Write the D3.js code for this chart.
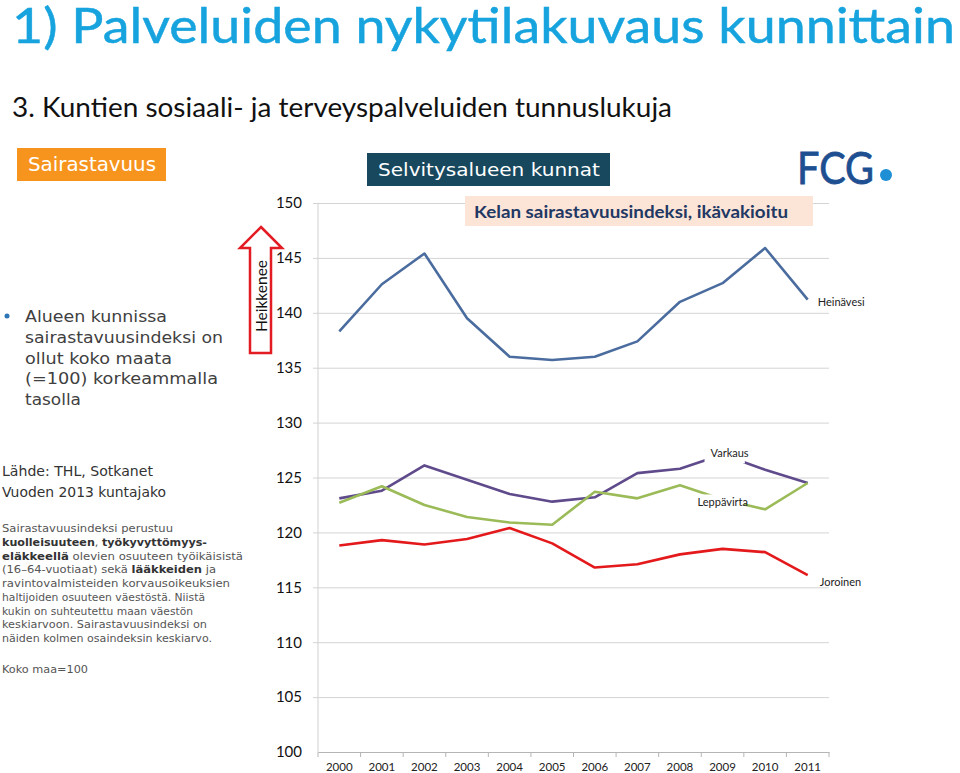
<!DOCTYPE html>
<html>
<head>
<meta charset="utf-8">
<script src="https://cdn.jsdelivr.net/npm/d3@7"></script>
<style>
  body { margin: 0; background: #fff; }
  svg { display: block; }
</style>
</head>
<body>
<div id="chart"></div>
<script>
// values
var years = ["2000", "2001", "2002", "2003", "2004", "2005", "2006", "2007", "2008", "2009", "2010", "2011"];
var heinavesi = [138.3, 142.6, 145.4, 139.5, 136.0, 135.7, 136.0, 137.4, 141.0, 142.7, 145.9, 141.2];
var varkaus = [123.1, 123.8, 126.1, 124.8, 123.5, 122.8, 123.2, 125.4, 125.8, 127.1, 125.7, 124.5];
var leppavirta = [122.7, 124.2, 122.5, 121.4, 120.9, 120.7, 123.7, 123.1, 124.3, 123.0, 122.1, 124.5];
var joroinen = [118.8, 119.3, 118.9, 119.4, 120.4, 119.0, 116.8, 117.1, 118.0, 118.5, 118.2, 116.1];
var yTicks = [100, 105, 110, 115, 120, 125, 130, 135, 140, 145, 150];

var width = 960, height = 773;

var svg = d3.select("#chart").append("svg")
    .attr("width", width).attr("height", height);

// headings
svg.append("text").attr("x", 12).attr("y", 43)
    .attr("textLength", 943).attr("lengthAdjust", "spacingAndGlyphs")
    .style("font-family", "Lato").style("font-size", "49px").style("fill", "#16A3DE")
    .style("stroke", "#16A3DE").style("stroke-width", 0.5)
    .text("1) Palveluiden nykytilakuvaus kunnittain");

svg.append("text").attr("x", 12).attr("y", 117)
    .attr("textLength", 660).attr("lengthAdjust", "spacingAndGlyphs")
    .style("font-family", "Lato").style("font-size", "27px").style("fill", "#111")
    .text("3. Kuntien sosiaali- ja terveyspalveluiden tunnuslukuja");

// coloured tags
svg.append("rect").attr("x", 17).attr("y", 148).attr("width", 149).attr("height", 33).attr("fill", "#F7941D");
svg.append("text").attr("x", 28).attr("y", 171)
    .attr("textLength", 128).attr("lengthAdjust", "spacingAndGlyphs")
    .style("font-family", "DejaVu Sans").style("font-size", "19px").style("fill", "#fff")
    .text("Sairastavuus");

svg.append("rect").attr("x", 367).attr("y", 153).attr("width", 243).attr("height", 33).attr("fill", "#17485E");
svg.append("text").attr("x", 378).attr("y", 176)
    .attr("textLength", 222).attr("lengthAdjust", "spacingAndGlyphs")
    .style("font-family", "DejaVu Sans").style("font-size", "18px").style("fill", "#fff")
    .text("Selvitysalueen kunnat");

// logo
svg.append("text").attr("x", 797).attr("y", 184)
    .attr("textLength", 77).attr("lengthAdjust", "spacingAndGlyphs")
    .style("font-family", "Lato").style("font-size", "44px").style("fill", "#1D4F91")
    .style("stroke", "#1D4F91").style("stroke-width", 0.8)
    .text("FCG");
svg.append("circle").attr("cx", 886).attr("cy", 175).attr("r", 6).attr("fill", "#1E8FD5");

// left panel: [line, width in px]
var bullet = [["Alueen kunnissa", 142], ["sairastavuusindeksi on", 198], ["ollut koko maata", 147],
    ["(=100) korkeammalla", 193], ["tasolla", 56]];
svg.append("circle").attr("cx", 7).attr("cy", 316).attr("r", 2.5).attr("fill", "#2E75B6");
svg.selectAll("text.bullet").data(bullet).join("text").attr("class", "bullet")
    .attr("x", 25).attr("y", function (d, i) { return 322 + i * 20.8; })
    .attr("textLength", function (d) { return d[1]; }).attr("lengthAdjust", "spacingAndGlyphs")
    .style("font-family", "DejaVu Sans").style("font-size", "16.5px").style("fill", "#404040")
    .text(function (d) { return d[0]; });

var source = [["Lähde: THL, Sotkanet", 151], ["Vuoden 2013 kuntajako", 164]];
svg.selectAll("text.src").data(source).join("text").attr("class", "src")
    .attr("x", 2).attr("y", function (d, i) { return 476 + i * 20.5; })
    .attr("textLength", function (d) { return d[1]; }).attr("lengthAdjust", "spacingAndGlyphs")
    .style("font-family", "DejaVu Sans").style("font-size", "14px").style("fill", "#333")
    .text(function (d) { return d[0]; });

// note paragraph, [text, bold] pieces per line
var note = [
    [["Sairastavuusindeksi perustuu", false]],
    [["kuolleisuuteen", true], [", ", false], ["työkyvyttömyys-", true]],
    [["eläkkeellä", true], [" olevien osuuteen työikäisistä", false]],
    [["(16–64-vuotiaat) sekä ", false], ["lääkkeiden", true], [" ja", false]],
    [["ravintovalmisteiden korvausoikeuksien", false]],
    [["haltijoiden osuuteen väestöstä. Niistä", false]],
    [["kukin on suhteutettu maan väestön", false]],
    [["keskiarvoon. Sairastavuusindeksi on", false]],
    [["näiden kolmen osaindeksin keskiarvo.", false]]
];
var noteWidths = [171, 205, 241, 214, 228, 203, 191, 205, 210];
var noteG = svg.append("g")
    .style("font-family", "DejaVu Sans").style("font-size", "11px");
note.forEach(function (line, i) {
    var t = noteG.append("text").attr("x", 2).attr("y", 532 + i * 13.75)
        .attr("textLength", noteWidths[i]).attr("lengthAdjust", "spacingAndGlyphs");
    line.forEach(function (p) {
        t.append("tspan").text(p[0])
            .style("font-weight", p[1] ? "bold" : "normal")
            .style("fill", p[1] ? "#333" : "#555");
    });
});
svg.append("text").attr("x", 2).attr("y", 673)
    .attr("textLength", 86).attr("lengthAdjust", "spacingAndGlyphs")
    .style("font-family", "DejaVu Sans").style("font-size", "11px").style("fill", "#555")
    .text("Koko maa=100");

// chart
var x = d3.scaleBand().domain(years).range([318, 829]);
var y = d3.scaleLinear().domain([100, 150]).range([752, 203]);

// gridlines + y labels
var yAxis = svg.append("g").attr("transform", "translate(318,0)")
    .call(d3.axisLeft(y).tickValues(yTicks).tickSize(-511).tickSizeOuter(0).tickPadding(16));
yAxis.select(".domain").remove();
yAxis.selectAll(".tick line").attr("x1", -5).attr("stroke", "#d4d4d4");
yAxis.selectAll(".tick text")
    .style("font-family", "Lato").style("font-size", "15px").style("fill", "#111");
yAxis.selectAll(".tick").filter(function (d) { return d === 100; }).select("line").remove();

svg.append("line").attr("x1", 318).attr("x2", 318).attr("y1", 203).attr("y2", 752)
    .attr("stroke", "#d0d0d0");

var xAxis = svg.append("g").attr("transform", "translate(0,752)")
    .call(d3.axisBottom(x).tickSize(0).tickPadding(11));
xAxis.select(".domain").attr("stroke", "#b5b5b5");
xAxis.selectAll(".tick text")
    .style("font-family", "Lato").style("font-size", "11.5px").style("fill", "#222");
// category boundary ticks
xAxis.selectAll("line.sep").data(years.concat(["end"])).join("line").attr("class", "sep")
    .attr("x1", function (d, i) { return x.range()[0] + i * x.step(); })
    .attr("x2", function (d, i) { return x.range()[0] + i * x.step(); })
    .attr("y1", 0).attr("y2", 5).attr("stroke", "#b5b5b5");

var series = [
    { name: "Heinävesi", values: heinavesi, color: "#4A6C9E" },
    { name: "Varkaus", values: varkaus, color: "#5F4A8B" },
    { name: "Leppävirta", values: leppavirta, color: "#9BBB59" },
    { name: "Joroinen", values: joroinen, color: "#E3191B" }
];

var line = d3.line()
    .x(function (d, i) { return x(years[i]) + x.bandwidth() / 2; })
    .y(function (d) { return y(d); });

svg.selectAll("path.series").data(series).join("path").attr("class", "series")
    .attr("d", function (d) { return line(d.values); })
    .attr("fill", "none")
    .attr("stroke", function (d) { return d.color; })
    .attr("stroke-width", 2.6)
    .attr("stroke-linejoin", "round");

// series labels (year index, value offset in px)
var labels = [
    { name: "Heinävesi", i: 11, v: heinavesi[11], dx: 10, dy: 6, mask: false },
    { name: "Varkaus", i: 9, v: varkaus[9], dx: -12, dy: 3, mask: true },
    { name: "Leppävirta", i: 9, v: leppavirta[9], dx: -25, dy: 7, mask: true },
    { name: "Joroinen", i: 11, v: joroinen[11], dx: 12, dy: 11, mask: false }
];
labels.forEach(function (l) {
    var g = svg.append("g");
    var t = g.append("text")
        .attr("x", x(years[l.i]) + x.bandwidth() / 2 + l.dx)
        .attr("y", y(l.v) + l.dy)
        .style("font-family", "Lato").style("font-size", "11px").style("fill", "#222")
        .text(l.name);
    if (l.mask) {
        var b = t.node().getBBox();
        g.insert("rect", "text").attr("x", b.x - 6).attr("y", b.y - 1)
            .attr("width", b.width + 2).attr("height", b.height + 5).attr("fill", "#fff");
    }
});

// title box over the chart
svg.append("rect").attr("x", 465).attr("y", 196).attr("width", 348).attr("height", 30).attr("fill", "#FCE4D6");
svg.append("text").attr("x", 474).attr("y", 218)
    .attr("textLength", 314).attr("lengthAdjust", "spacingAndGlyphs")
    .style("font-family", "Lato").style("font-size", "17px").style("font-weight", "bold").style("fill", "#1F3864")
    .text("Kelan sairastavuusindeksi, ikävakioitu");

// "Heikkenee" arrow
var arrow = [[261, 227], [282, 248], [271, 248], [271, 353], [250, 353], [250, 248], [240, 248]];
svg.append("path").attr("d", d3.line()(arrow) + "Z")
    .attr("fill", "#fff").attr("stroke", "#E31B23").attr("stroke-width", 2.5);
svg.append("text").attr("transform", "translate(267,296) rotate(-90)")
    .attr("text-anchor", "middle")
    .style("font-family", "Lato").style("font-size", "15.5px").style("fill", "#111")
    .text("Heikkenee");
</script>
</body>
</html>
